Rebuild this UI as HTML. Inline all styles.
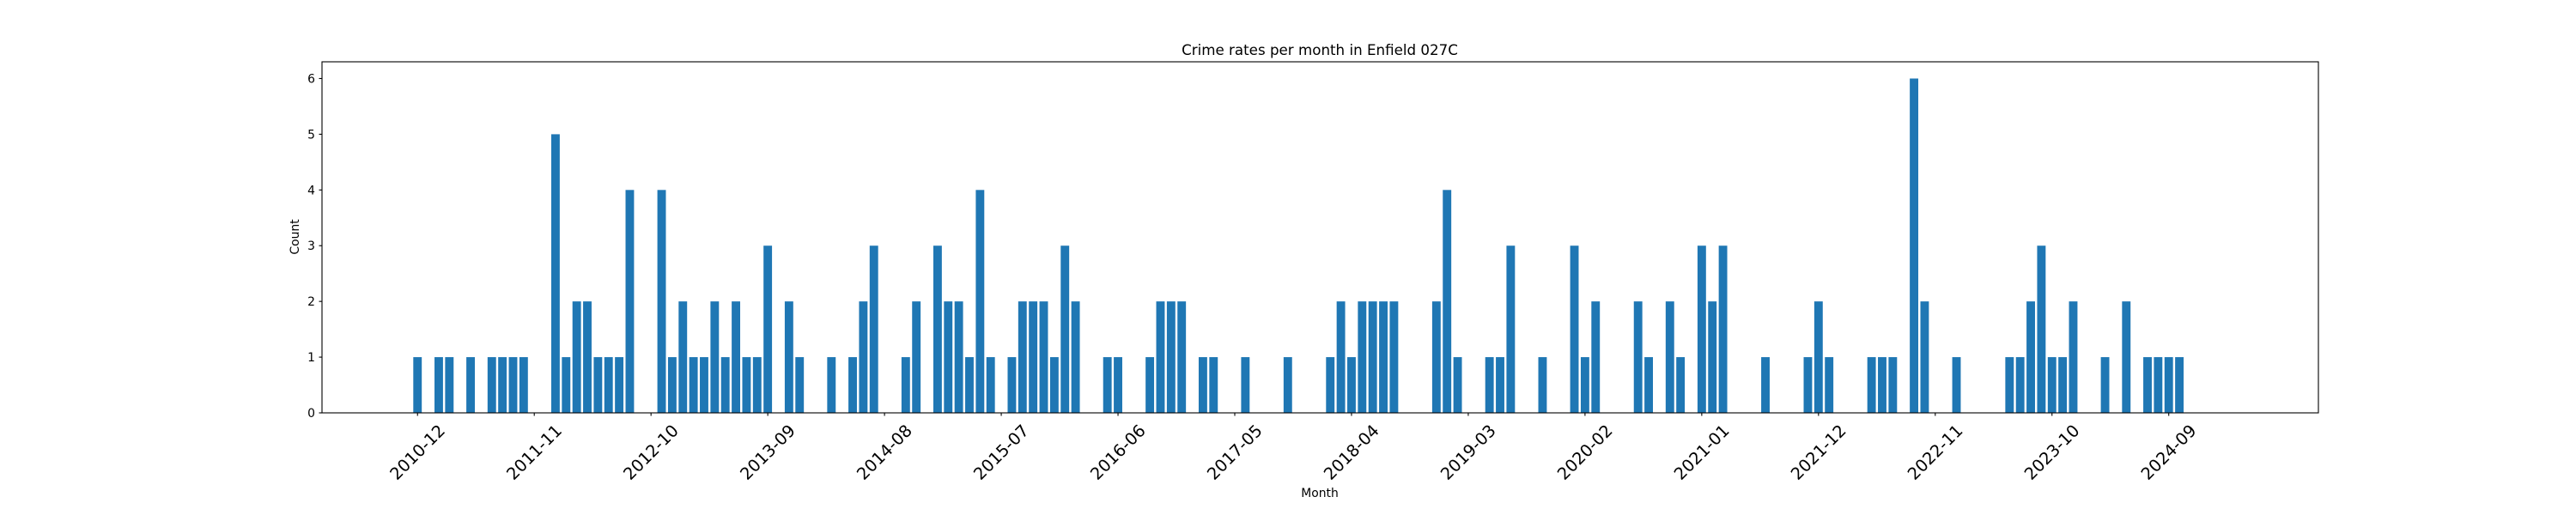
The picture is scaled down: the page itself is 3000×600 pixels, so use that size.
<!DOCTYPE html>
<html><head><meta charset="utf-8"><style>
html,body{margin:0;padding:0;background:#fff}
svg{display:block;font-family:"DejaVu Sans","Liberation Sans",sans-serif}
</style></head><body>
<svg id="chart" width="3000" height="600" viewBox="0 0 3000 600">
<rect x="0" y="0" width="3000" height="600" fill="#fff"/>
<text x="1537" y="64" text-anchor="middle" font-size="16.7" fill="#000">Crime rates per month in Enfield 027C</text>
<g id="bars"></g>
<g id="axes"></g>
<text x="1537" y="579" text-anchor="middle" font-size="13.9" fill="#000">Month</text>
<text x="0" y="0" transform="translate(348,276) rotate(-90)" text-anchor="middle" font-size="13.9" fill="#000">Count</text>
</svg>
<script>
const startYear = 2010, startMonth = 12;
const counts = [1,0,1,1,0,1,0,1,1,1,1,0,0,5,1,2,2,1,1,1,4,0,0,4,1,2,1,1,2,1,2,1,1,3,0,2,1,0,0,1,0,1,2,3,0,0,1,2,0,3,2,2,1,4,1,0,1,2,2,2,1,3,2,0,0,1,1,0,0,1,2,2,2,0,1,1,0,0,1,0,0,0,1,0,0,0,1,2,1,2,2,2,2,0,0,0,2,4,1,0,0,1,1,3,0,0,1,0,0,3,1,2,0,0,0,2,1,0,2,1,0,3,2,3,0,0,0,1,0,0,0,1,2,1,0,0,0,1,1,1,0,6,2,0,0,1,0,0,0,0,1,1,2,3,1,1,2,0,0,1,0,2,0,1,1,1,1];
const yTicks = [0,1,2,3,4,5,6];
const tickEvery = 11;

const NS = "http://www.w3.org/2000/svg";
const L = 375, R = 2700, T = 72, B = 481;
const xMin = -9, xMax = 179.1, yMax = 6.3;
const months = counts.map((_, i) => {
  const m0 = startMonth - 1 + i;
  const y = startYear + Math.floor(m0 / 12);
  const m = (m0 % 12) + 1;
  return y + "-" + String(m).padStart(2, "0");
});
function xs(i){ return L + (i - xMin) / (xMax - xMin) * (R - L); }
function ys(v){ return B - v / yMax * (B - T); }
function mk(tag, attrs, parent){
  const e = document.createElementNS(NS, tag);
  for (const k in attrs) e.setAttribute(k, attrs[k]);
  parent.appendChild(e); return e;
}
const bars = document.getElementById("bars");
const axes = document.getElementById("axes");
const bw = 0.8 * (xs(1) - xs(0));
counts.forEach((v, i) => {
  if (v <= 0) return;
  const r = mk("rect", {x: xs(i) - bw/2, y: ys(v), width: bw, height: ys(0) - ys(v), fill: "#1f77b4"}, bars);
  
  
});
const frame = mk("rect", {x: L, y: T, width: R - L, height: B - T, fill: "none", stroke: "#000", "stroke-width": 1.1}, axes);


yTicks.forEach(t => {
  const y = ys(t);
  const ln = mk("line", {x1: L - 3.5, x2: L, y1: y, y2: y, stroke: "#000", "stroke-width": 1.1}, axes);
  
  
  const tx = mk("text", {x: L - 8, y: y + 5, "text-anchor": "end", "font-size": 13.9, fill: "#000"}, axes);
  tx.textContent = t;
  
  
});
for (let i = 0; i < months.length; i += tickEvery) {
  const x = xs(i);
  const ln = mk("line", {x1: x, x2: x, y1: B, y2: B + 3.5, stroke: "#000", "stroke-width": 1.1}, axes);
  
  
  const tx = mk("text", {x: 0, y: 0, transform: "translate(" + x + "," + (B + 46) + ") rotate(-45)", "text-anchor": "middle", "dominant-baseline": "central", "font-size": 19.4, fill: "#000"}, axes);
  tx.textContent = months[i];
  
  
}
</script>
</body></html>
